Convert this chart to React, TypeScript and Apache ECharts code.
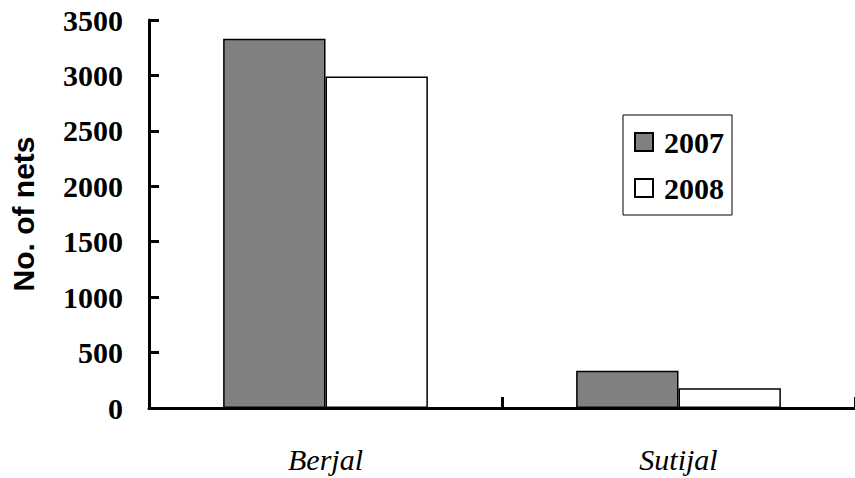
import React, { useEffect, useRef } from "react";
import * as echarts from "echarts";

const categories = ["Berjal", "Sutijal"];
const seriesNames = ["2007", "2008"];
const values2007 = [3330, 337];
const values2008 = [2990, 178];
const yTicks = { min: 0, max: 3500, interval: 500 };

export default function App() {
  const ref = useRef<HTMLDivElement>(null);
  useEffect(() => {
    if (!ref.current) return;
    const chart = echarts.init(ref.current, undefined, { renderer: "svg" });
    const serif = "Liberation Serif, Times New Roman, Times, serif";
    chart.setOption({
      animation: false,
      backgroundColor: "#ffffff",
      grid: { left: 146, top: 20, width: 714, height: 388, containLabel: false },
      legend: {
        orient: "vertical",
        left: 623,
        top: 115,
        padding: [12, 8, 12, 11],
        itemWidth: 18,
        itemHeight: 18,
        itemGap: 16,
        borderColor: "#000",
        borderWidth: 1,
        icon: "rect",
        data: seriesNames,
        textStyle: {
          fontFamily: serif,
          fontWeight: "bold",
          fontSize: 30,
          color: "#000",
          padding: [0, 0, 0, 6],
        },
      },
      xAxis: {
        type: "category",
        data: categories,
        axisLine: { lineStyle: { color: "#000", width: 3 } },
        axisTick: { show: true, inside: true, length: 11, lineStyle: { color: "#000", width: 3 } },
        axisLabel: {
          fontFamily: serif,
          fontStyle: "italic",
          fontWeight: "normal",
          fontSize: 30,
          color: "#000",
          margin: 36,
        },
      },
      yAxis: {
        type: "value",
        min: yTicks.min,
        max: yTicks.max,
        interval: yTicks.interval,
        name: "No. of nets",
        nameLocation: "middle",
        nameRotate: 90,
        nameGap: 111,
        nameTextStyle: {
          fontFamily: "Liberation Sans, Arial, sans-serif",
          fontWeight: "bold",
          fontSize: 30,
          color: "#000",
        },
        splitLine: { show: false },
        axisLine: { show: true, lineStyle: { color: "#000", width: 3 } },
        axisTick: { show: true, inside: true, length: 10, lineStyle: { color: "#000", width: 3 } },
        axisLabel: {
          fontFamily: serif,
          fontWeight: "bold",
          fontSize: 30,
          color: "#000",
          margin: 26,
          formatter: (v: number) => String(v),
        },
      },
      series: [
        {
          name: seriesNames[0],
          type: "bar",
          data: values2007,
          barGap: "0%",
          barCategoryGap: "42%",
          itemStyle: { color: "#808080", borderColor: "#000", borderWidth: 1.5 },
        },
        {
          name: seriesNames[1],
          type: "bar",
          data: values2008,
          barGap: "0%",
          barCategoryGap: "42%",
          itemStyle: { color: "#ffffff", borderColor: "#000", borderWidth: 1.5 },
        },
      ],
    });
    return () => chart.dispose();
  }, []);
  return <div ref={ref} style={{ width: 855, height: 478, position: "absolute", left: 0, top: 0 }} />;
}
